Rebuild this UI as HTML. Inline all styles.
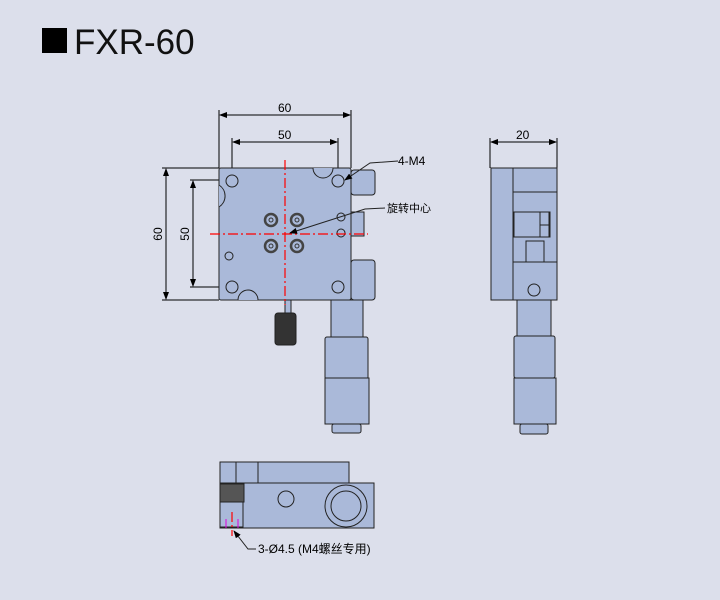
<!DOCTYPE html>
<html><head><meta charset="utf-8"><style>
body{margin:0;background:#dcdfeb;}
svg{display:block}
text{font-family:"Liberation Sans","Noto Sans CJK SC",sans-serif;}
</style></head><body>
<svg width="720" height="600" viewBox="0 0 720 600" xmlns="http://www.w3.org/2000/svg">
<rect width="720" height="600" fill="#dcdfeb"/>
<rect x="42" y="28" width="25" height="25" fill="#000"/>
<text x="74" y="54" font-size="35" fill="#111">FXR-60</text>
<defs><marker id="a" markerWidth="8" markerHeight="6" refX="7" refY="3" orient="auto"><path d="M0,0 L8,3 L0,6z" fill="#000"/></marker></defs>
<g stroke="#000" stroke-width="1" fill="none">
<line x1="219" y1="168" x2="219" y2="110"/><line x1="351" y1="168" x2="351" y2="110"/>
<line x1="220" y1="115" x2="350" y2="115" marker-end="url(#a)"/><line x1="350" y1="115" x2="220" y2="115" marker-end="url(#a)"/>
<line x1="232" y1="181" x2="232" y2="138"/><line x1="338" y1="181" x2="338" y2="138"/>
<line x1="233" y1="142" x2="337" y2="142" marker-end="url(#a)"/><line x1="337" y1="142" x2="233" y2="142" marker-end="url(#a)"/>
<line x1="162" y1="168" x2="219" y2="168"/><line x1="162" y1="300" x2="219" y2="300"/>
<line x1="166" y1="169" x2="166" y2="299" marker-end="url(#a)"/><line x1="166" y1="299" x2="166" y2="169" marker-end="url(#a)"/>
<line x1="190" y1="180" x2="232" y2="180"/><line x1="190" y1="287" x2="232" y2="287"/>
<line x1="193" y1="181" x2="193" y2="286" marker-end="url(#a)"/><line x1="193" y1="286" x2="193" y2="181" marker-end="url(#a)"/>
<line x1="490" y1="168" x2="490" y2="138"/><line x1="557" y1="168" x2="557" y2="138"/>
<line x1="491" y1="142" x2="556" y2="142" marker-end="url(#a)"/><line x1="556" y1="142" x2="491" y2="142" marker-end="url(#a)"/>
</g>
<g font-size="12" fill="#000">
<text x="278" y="112">60</text><text x="278" y="139">50</text>
<text x="164" y="234" transform="rotate(-90 164 234)" text-anchor="middle" dy="-2">60</text>
<text x="191" y="234" transform="rotate(-90 191 234)" text-anchor="middle" dy="-2">50</text>
<text x="516" y="139">20</text>
<text x="398" y="165">4-M4</text>
<text x="387" y="212" font-size="11">旋转中心</text>
<text x="258" y="553">3-Ø4.5 (M4螺丝专用)</text>
</g>
<g stroke="#222" stroke-width="1" fill="#aab9d9">
<rect x="351" y="170" width="24" height="25" rx="3"/>
<rect x="351" y="260" width="24" height="40" rx="3"/>
<rect x="351" y="212" width="13" height="24"/>
<rect x="331" y="300" width="32" height="38"/>
<rect x="325" y="337" width="43" height="42" rx="2"/>
<rect x="325" y="378" width="44" height="46"/>
<rect x="332" y="424" width="29" height="9" rx="2"/>
<rect x="219" y="168" width="132" height="132" rx="2"/>
<rect x="285" y="300" width="6" height="14"/>
<rect x="275" y="313" width="21" height="32" rx="3" fill="#333"/>
<circle cx="232" cy="181" r="6"/><circle cx="338" cy="181" r="6"/>
<circle cx="232" cy="287" r="6"/><circle cx="338" cy="287" r="6"/>
<circle cx="229" cy="256" r="4"/><circle cx="341" cy="217" r="4"/><circle cx="341" cy="233" r="4"/>
<path d="M219,185 A13,13 0 0 1 219,207"/>
<path d="M313,168 A10,10 0 0 0 333,168"/>
<path d="M238,300 A10,10 0 0 1 258,300"/>
<g stroke="#444" stroke-width="2.5"><circle cx="271" cy="220" r="6"/><circle cx="297" cy="220" r="6"/><circle cx="271" cy="246" r="6"/><circle cx="297" cy="246" r="6"/></g>
<g stroke="#333"><circle cx="271" cy="220" r="2"/><circle cx="297" cy="220" r="2"/><circle cx="271" cy="246" r="2"/><circle cx="297" cy="246" r="2"/></g>
<rect x="491" y="168" width="22" height="132"/>
<rect x="513" y="168" width="44" height="24"/>
<rect x="513" y="192" width="44" height="70"/>
<rect x="514" y="212" width="36" height="25"/>
<rect x="540" y="212" width="9" height="13"/><rect x="540" y="225" width="9" height="12"/>
<rect x="526" y="241" width="18" height="21"/>
<rect x="513" y="262" width="44" height="38"/>
<circle cx="534" cy="290" r="6"/>
<rect x="517" y="300" width="34" height="37"/>
<rect x="514" y="336" width="41" height="42" rx="2"/>
<rect x="514" y="378" width="42" height="46"/>
<rect x="520" y="424" width="28" height="10" rx="2"/>
<rect x="220" y="462" width="129" height="21"/>
<line x1="236" y1="462" x2="236" y2="483"/><line x1="258" y1="462" x2="258" y2="483"/>
<rect x="220" y="483" width="154" height="45"/>
<rect x="220" y="484" width="24" height="18" fill="#555"/>
<rect x="220" y="502" width="23" height="25"/>
<circle cx="286" cy="499" r="8"/>
<circle cx="346" cy="506" r="21"/><circle cx="346" cy="506" r="15"/>
</g>
<g stroke="#e000e0" stroke-width="1"><line x1="226" y1="519" x2="226" y2="528"/><line x1="238" y1="519" x2="238" y2="528"/></g>
<g stroke="#ff0000" stroke-width="1.2" stroke-dasharray="10,3,2,3">
<line x1="210" y1="234" x2="368" y2="234"/>
<line x1="285" y1="160" x2="285" y2="305"/>
<line x1="232" y1="512" x2="232" y2="536"/>
</g>
<g stroke="#222" stroke-width="1" fill="none">
<polyline points="398,161 370,163 345,180" marker-end="url(#a)"/>
<polyline points="385,208 365,209 290,233" marker-end="url(#a)"/>
<polyline points="256,549 248,549 234,531" marker-end="url(#a)"/>
</g>
</svg>
</body></html>
